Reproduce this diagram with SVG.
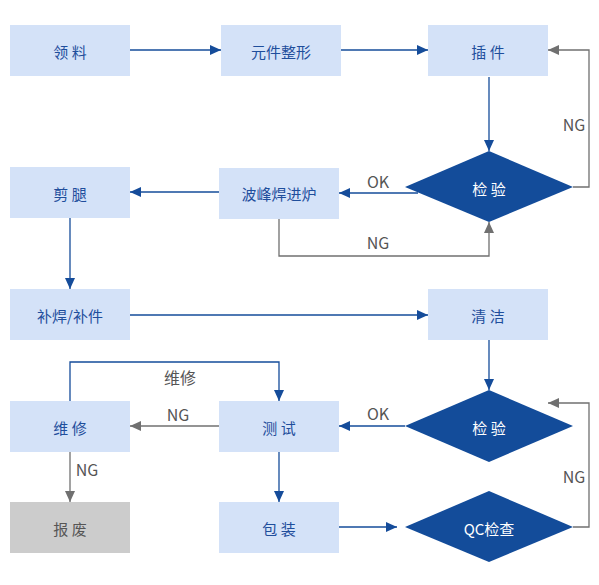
<svg xmlns="http://www.w3.org/2000/svg" width="599" height="585" viewBox="0 0 599 585">
<style>
.box{fill:#D4E2F8}
.gbox{fill:#CCCCCC}
.dia{fill:#134C9A}
.t{font-family:"Noto Sans CJK SC","Liberation Sans",sans-serif;font-size:15px;fill:#1F4E9C;text-anchor:middle;dominant-baseline:central}
.tg{font-family:"Noto Sans CJK SC","Liberation Sans",sans-serif;font-size:15px;fill:#555555;text-anchor:middle;dominant-baseline:central}
.tw{font-family:"Noto Sans CJK SC","Liberation Sans",sans-serif;font-size:15px;fill:#FFFFFF;text-anchor:middle;dominant-baseline:central}
.lbl{font-family:"Noto Sans CJK SC","Liberation Sans",sans-serif;font-size:16px;fill:#555555;text-anchor:middle;dominant-baseline:central}
.lb{fill:none;stroke:#154C9A;stroke-width:1.3}
.lg{fill:none;stroke:#707070;stroke-width:1.3}
</style>
<defs>
<marker id="ab" markerUnits="userSpaceOnUse" markerWidth="12" markerHeight="12" viewBox="0 0 12 12" refX="11" refY="6" orient="auto"><path d="M0,1 L11,6 L0,11 Z" fill="#154C9A"/></marker>
<marker id="ag" markerUnits="userSpaceOnUse" markerWidth="12" markerHeight="12" viewBox="0 0 12 12" refX="11" refY="6" orient="auto"><path d="M0,1 L11,6 L0,11 Z" fill="#707070"/></marker>
</defs>
<g id="connectors">
<path class="lb" d="M130,50 H221" marker-end="url(#ab)"/>
<path class="lb" d="M341,50 H428" marker-end="url(#ab)"/>
<path class="lb" d="M489,77 V151" marker-end="url(#ab)"/>
<path class="lg" d="M573,187 H589 V50 H548" marker-end="url(#ag)"/>
<path class="lb" d="M418,193 H339" marker-end="url(#ab)"/>
<path class="lg" d="M279,219 V256 H489 V222" marker-end="url(#ag)"/>
<path class="lb" d="M219,192 H130" marker-end="url(#ab)"/>
<path class="lb" d="M70,218 V289" marker-end="url(#ab)"/>
<path class="lb" d="M130,315 H428" marker-end="url(#ab)"/>
<path class="lb" d="M489,340 V390" marker-end="url(#ab)"/>
<path class="lb" d="M405,426 H339" marker-end="url(#ab)"/>
<path class="lg" d="M573,527 H589 V403 H548" marker-end="url(#ag)"/>
<path class="lb" d="M279,452 V502" marker-end="url(#ab)"/>
<path class="lb" d="M339,527 H397" marker-end="url(#ab)"/>
<path class="lg" d="M219,426 H130" marker-end="url(#ag)"/>
<path class="lb" d="M70,401 V362 H279 V401" marker-end="url(#ab)"/>
<path class="lg" d="M70,452 V502" marker-end="url(#ag)"/>
<text class="lbl" x="574" y="124">NG</text>
<text class="lbl" x="378" y="181">OK</text>
<text class="lbl" x="378" y="242">NG</text>
<text class="lbl" x="378" y="413">OK</text>
<text class="lbl" x="574" y="476">NG</text>
<text class="lbl" x="178" y="414">NG</text>
<text class="lbl" x="180" y="377">维修</text>
<text class="lbl" x="87" y="469">NG</text>
</g>
<g id="n_lingliao"><rect class="box" x="10" y="25" width="120" height="51"/><text class="t" x="70" y="51">领 料</text></g>
<g id="n_zhengxing"><rect class="box" x="221" y="25" width="120" height="51"/><text class="t" x="281" y="51">元件整形</text></g>
<g id="n_chajian"><rect class="box" x="428" y="25" width="120" height="51"/><text class="t" x="488" y="51">插 件</text></g>
<g id="n_jianyan1"><polygon class="dia" points="489,151 573,187 489,222 405,187"/><text class="tw" x="489" y="188">检 验</text></g>
<g id="n_bofeng"><rect class="box" x="219" y="168" width="120" height="51"/><text class="t" x="279" y="193">波峰焊进炉</text></g>
<g id="n_jiantui"><rect class="box" x="10" y="167" width="120" height="51"/><text class="t" x="70" y="193">剪 腿</text></g>
<g id="n_buhan"><rect class="box" x="10" y="289" width="120" height="51"/><text class="t" x="70" y="315">补焊/补件</text></g>
<g id="n_qingjie"><rect class="box" x="428" y="289" width="120" height="51"/><text class="t" x="488" y="315">清 洁</text></g>
<g id="n_jianyan2"><polygon class="dia" points="489,390 573,426 489,462 405,426"/><text class="tw" x="489" y="427">检 验</text></g>
<g id="n_ceshi"><rect class="box" x="219" y="401" width="120" height="51"/><text class="t" x="279" y="427">测 试</text></g>
<g id="n_weixiu"><rect class="box" x="10" y="401" width="120" height="51"/><text class="t" x="70" y="427">维 修</text></g>
<g id="n_baofei"><rect class="gbox" x="10" y="502" width="120" height="51"/><text class="tg" x="70" y="528">报 废</text></g>
<g id="n_baozhuang"><rect class="box" x="219" y="502" width="120" height="51"/><text class="t" x="279" y="528">包 装</text></g>
<g id="n_qc"><polygon class="dia" points="489,491 573,527 489,562 405,527"/><text class="tw" x="489" y="528">QC检查</text></g>
</svg>
